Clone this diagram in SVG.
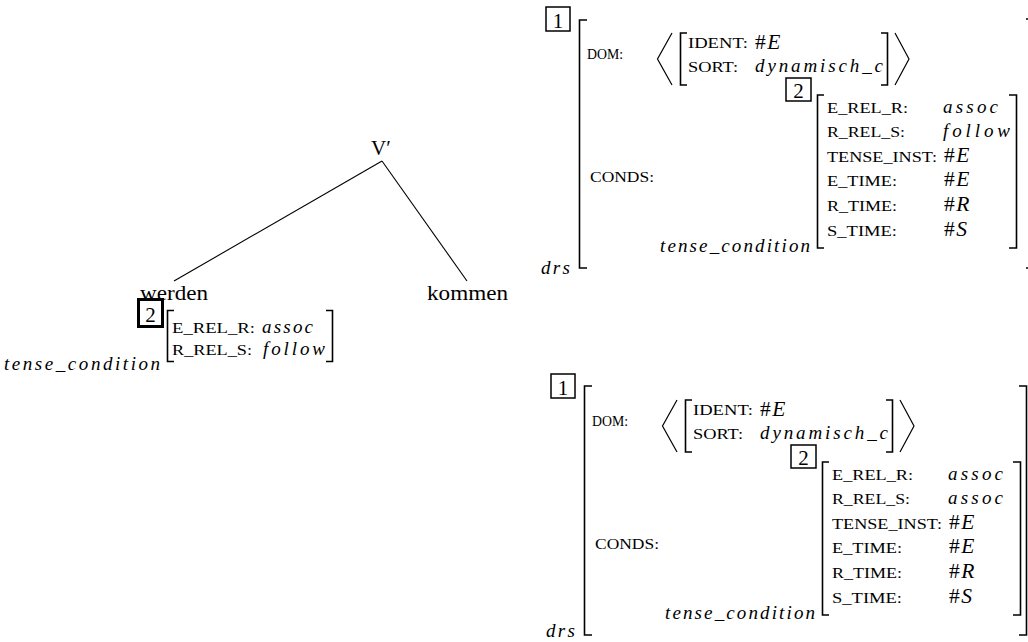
<svg xmlns="http://www.w3.org/2000/svg" width="1028" height="642" viewBox="0 0 1028 642">
<style>
text { font-family: "Liberation Serif", "Times New Roman", serif; fill:#000; }
.rm { font-size: 21px; }
.sc { font-size: 15px; }
.it { font-size: 19px; font-style: italic; }
.hs { font-size: 21.5px; }
.iv { font-size: 21.5px; font-style: italic; }
.br { fill: none; stroke: #000; stroke-width: 1.6; }
.ang { fill: none; stroke: #000; stroke-width: 1.2; }
.box { fill: none; stroke: #000; stroke-width: 1.5; }
.tbox { fill: none; stroke: #000; stroke-width: 3; }
.edge { stroke: #000; stroke-width: 1.1; fill: none; }
</style>
<rect width="1028" height="642" fill="#fff"/>

<g id="connectors">
  <line class="edge" x1="382" y1="161" x2="174" y2="281"/>
  <line class="edge" x1="382" y1="161" x2="467" y2="281"/>
</g>

<g id="node-vbar"><text class="rm" x="371" y="155">V′</text></g>
<g id="node-werden"><text class="rm" x="140" y="300" textLength="68" lengthAdjust="spacingAndGlyphs">werden</text></g>
<g id="node-kommen"><text class="rm" x="427" y="300" textLength="81" lengthAdjust="spacingAndGlyphs">kommen</text></g>

<g id="tree-avm">
  <rect class="tbox" x="138.5" y="299.5" width="24" height="27"/>
  <text class="rm" x="150.5" y="322" text-anchor="middle">2</text>
  <path class="br" d="M174,310.5 H167.5 V361.5 H174"/>
  <text class="sc" x="172" y="333" textLength="83" lengthAdjust="spacingAndGlyphs">E_REL_R:</text>
  <text class="it" x="262" y="333" textLength="51" lengthAdjust="spacing">assoc</text>
  <text class="sc" x="172" y="355" textLength="80" lengthAdjust="spacingAndGlyphs">R_REL_S:</text>
  <text class="it" x="263" y="355" textLength="62" lengthAdjust="spacing">follow</text>
  <path class="br" d="M326,310.5 H332.5 V361.5 H326"/>
  <text class="it" x="4" y="370" textLength="156" lengthAdjust="spacing">tense_condition</text>
</g>

<g id="avm-top">
  <rect class="box" x="546" y="7" width="24" height="24"/>
  <text class="rm" x="558" y="28" text-anchor="middle">1</text>
  <path class="br" d="M587,20 H579.5 V268 H587"/>
  <path class="br" d="M1026,19 H1029 V268 H1026"/>
  <text class="sc" x="587" y="59" textLength="36" lengthAdjust="spacingAndGlyphs">DOM:</text>
  <polyline class="ang" points="672,33 657.5,59 672,85"/>
  <path class="br" d="M687,33 H680.5 V85 H687"/>
  <text class="sc" x="688" y="48" textLength="60" lengthAdjust="spacingAndGlyphs">IDENT:</text>
  <text x="755" y="49"><tspan class="hs">#</tspan><tspan class="iv" dx="1.5">E</tspan></text>
  <text class="sc" x="688" y="72" textLength="50" lengthAdjust="spacingAndGlyphs">SORT:</text>
  <text class="it" x="755" y="72" textLength="128" lengthAdjust="spacing">dynamisch_c</text>
  <path class="br" d="M881,33 H887.5 V85 H881"/>
  <polyline class="ang" points="895,33 909,59 895,85"/>
  <text class="sc" x="590" y="182" textLength="64" lengthAdjust="spacingAndGlyphs">CONDS:</text>
  <rect class="box" x="786" y="78" width="25" height="23"/>
  <text class="rm" x="798.5" y="98" text-anchor="middle">2</text>
  <path class="br" d="M824,95 H817.5 V248 H824"/>
  <path class="br" d="M1009,95 H1016.5 V248 H1009"/>
  <text class="sc" x="827" y="113" textLength="81" lengthAdjust="spacingAndGlyphs">E_REL_R:</text>
  <text class="it" x="943" y="113" textLength="55" lengthAdjust="spacing">assoc</text>
  <text class="sc" x="827" y="137" textLength="78" lengthAdjust="spacingAndGlyphs">R_REL_S:</text>
  <text class="it" x="943" y="137" textLength="67" lengthAdjust="spacing">follow</text>
  <text class="sc" x="827" y="162" textLength="110" lengthAdjust="spacingAndGlyphs">TENSE_INST:</text>
  <text x="944" y="162"><tspan class="hs">#</tspan><tspan class="iv" dx="1.5">E</tspan></text>
  <text class="sc" x="827" y="186" textLength="70" lengthAdjust="spacingAndGlyphs">E_TIME:</text>
  <text x="944" y="186"><tspan class="hs">#</tspan><tspan class="iv" dx="1.5">E</tspan></text>
  <text class="sc" x="827" y="211" textLength="70" lengthAdjust="spacingAndGlyphs">R_TIME:</text>
  <text x="944" y="211"><tspan class="hs">#</tspan><tspan class="iv" dx="1.5">R</tspan></text>
  <text class="sc" x="827" y="236" textLength="70" lengthAdjust="spacingAndGlyphs">S_TIME:</text>
  <text x="944" y="236"><tspan class="hs">#</tspan><tspan class="iv" dx="1.5">S</tspan></text>
  <text class="it" x="660" y="252" textLength="150" lengthAdjust="spacing">tense_condition</text>
  <text class="it" x="541" y="274" textLength="29" lengthAdjust="spacing">drs</text>
</g>

<g id="avm-bottom">
  <rect class="box" x="551" y="374" width="24" height="24"/>
  <text class="rm" x="563" y="395" text-anchor="middle">1</text>
  <path class="br" d="M592,386 H584.5 V635 H592"/>
  <path class="br" d="M1019,386 H1026.5 V635 H1019"/>
  <text class="sc" x="592" y="426" textLength="36" lengthAdjust="spacingAndGlyphs">DOM:</text>
  <polyline class="ang" points="677,400 662.5,426 677,452"/>
  <path class="br" d="M692,400 H685.5 V452 H692"/>
  <text class="sc" x="693" y="415" textLength="60" lengthAdjust="spacingAndGlyphs">IDENT:</text>
  <text x="760" y="416"><tspan class="hs">#</tspan><tspan class="iv" dx="1.5">E</tspan></text>
  <text class="sc" x="693" y="439" textLength="50" lengthAdjust="spacingAndGlyphs">SORT:</text>
  <text class="it" x="760" y="439" textLength="128" lengthAdjust="spacing">dynamisch_c</text>
  <path class="br" d="M886,400 H892.5 V452 H886"/>
  <polyline class="ang" points="900,400 914,426 900,452"/>
  <text class="sc" x="595" y="549" textLength="64" lengthAdjust="spacingAndGlyphs">CONDS:</text>
  <rect class="box" x="791" y="445" width="25" height="23"/>
  <text class="rm" x="803.5" y="465" text-anchor="middle">2</text>
  <path class="br" d="M829,462 H822.5 V615 H829"/>
  <path class="br" d="M1013,462 H1020.5 V615 H1013"/>
  <text class="sc" x="832" y="480" textLength="81" lengthAdjust="spacingAndGlyphs">E_REL_R:</text>
  <text class="it" x="948" y="480" textLength="55" lengthAdjust="spacing">assoc</text>
  <text class="sc" x="832" y="504" textLength="78" lengthAdjust="spacingAndGlyphs">R_REL_S:</text>
  <text class="it" x="948" y="504" textLength="55" lengthAdjust="spacing">assoc</text>
  <text class="sc" x="832" y="529" textLength="110" lengthAdjust="spacingAndGlyphs">TENSE_INST:</text>
  <text x="949" y="529"><tspan class="hs">#</tspan><tspan class="iv" dx="1.5">E</tspan></text>
  <text class="sc" x="832" y="553" textLength="70" lengthAdjust="spacingAndGlyphs">E_TIME:</text>
  <text x="949" y="553"><tspan class="hs">#</tspan><tspan class="iv" dx="1.5">E</tspan></text>
  <text class="sc" x="832" y="578" textLength="70" lengthAdjust="spacingAndGlyphs">R_TIME:</text>
  <text x="949" y="578"><tspan class="hs">#</tspan><tspan class="iv" dx="1.5">R</tspan></text>
  <text class="sc" x="832" y="603" textLength="70" lengthAdjust="spacingAndGlyphs">S_TIME:</text>
  <text x="949" y="603"><tspan class="hs">#</tspan><tspan class="iv" dx="1.5">S</tspan></text>
  <text class="it" x="665" y="619" textLength="150" lengthAdjust="spacing">tense_condition</text>
  <text class="it" x="546" y="637" textLength="29" lengthAdjust="spacing">drs</text>
</g>
</svg>
